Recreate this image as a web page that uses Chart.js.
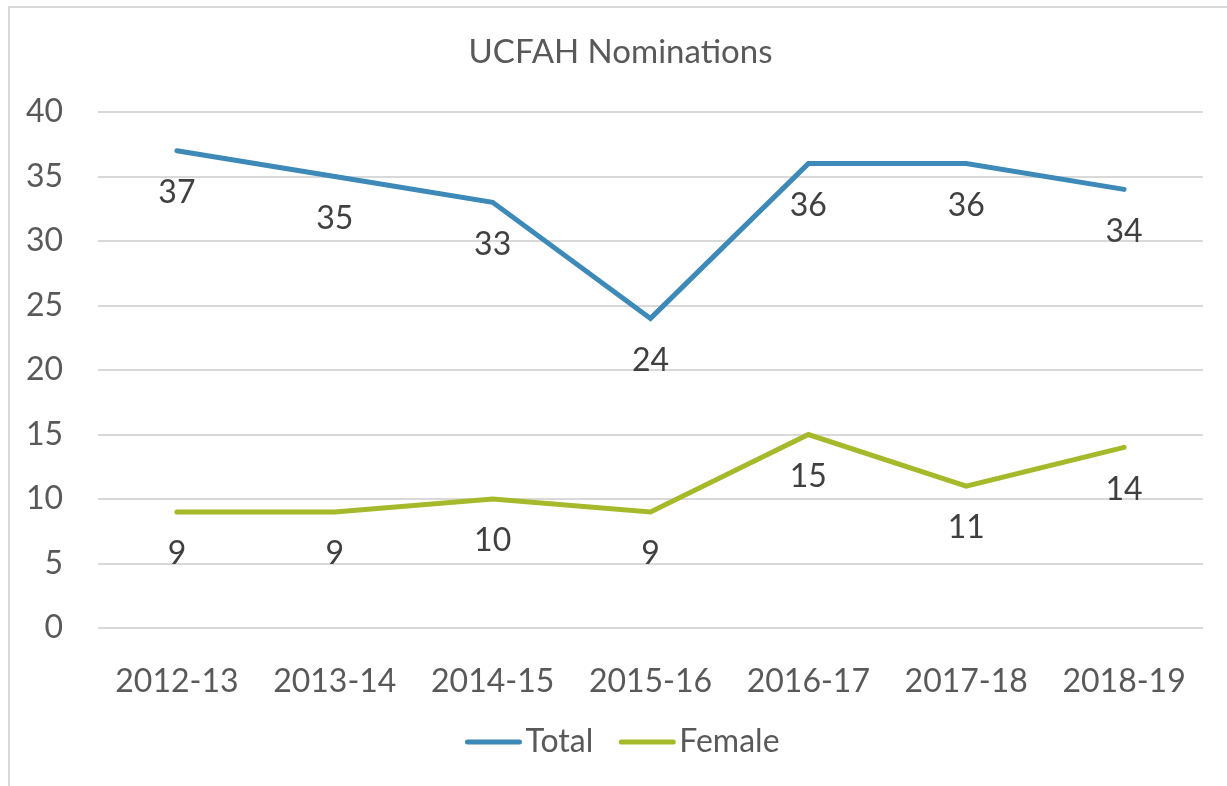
<!DOCTYPE html>
<html>
<head>
<meta charset="utf-8">
<script src="https://cdn.jsdelivr.net/npm/chart.js@4.4.1/dist/chart.umd.min.js"></script>
<style>
  html, body { margin: 0; padding: 0; background: #fff; overflow: hidden; }
  #wrap { position: relative; width: 1227px; height: 786px; }
  #frame { position: absolute; left: 8px; top: 6px; width: 1400px; height: 900px; border: 2px solid #d9d9d9; box-sizing: border-box; }
  canvas { position: absolute; left: 0; top: 0; }
</style>
</head>
<body>
<div id="wrap">
  <div id="frame"></div>
  <canvas id="myChart" width="1227" height="786"></canvas>
</div>
<script>
const chartTitle = "UCFAH Nominations";
const years = ["2012-13", "2013-14", "2014-15", "2015-16", "2016-17", "2017-18", "2018-19"];
const totalValues = [37, 35, 33, 24, 36, 36, 34];
const femaleValues = [9, 9, 10, 9, 15, 11, 14];
const yTicks = [0, 5, 10, 15, 20, 25, 30, 35, 40];

const FONT = "Lato, 'Open Sans', sans-serif";

// title sits a bit right of the canvas centre, like the original
const titleText = {
  id: "titleText",
  afterDraw(chart) {
    const ctx = chart.ctx;
    ctx.save();
    ctx.font = "33px " + FONT;
    ctx.fillStyle = "#595959";
    ctx.textAlign = "center";
    ctx.textBaseline = "middle";
    ctx.fillText(chartTitle, chart.width / 2 + 7, 52);
    ctx.restore();
  }
};

// values written under each point
const pointLabels = {
  id: "pointLabels",
  afterDatasetsDraw(chart) {
    const ctx = chart.ctx;
    ctx.save();
    ctx.font = "32px " + FONT;
    ctx.fillStyle = "#404040";
    ctx.textAlign = "center";
    ctx.textBaseline = "middle";
    chart.data.datasets.forEach((ds, i) => {
      chart.getDatasetMeta(i).data.forEach((pt, j) => {
        ctx.fillText(String(ds.data[j]), pt.x, pt.y + 42);
      });
    });
    ctx.restore();
  }
};

// legend like the office one: short line, text right after it
const lineLegend = {
  id: "lineLegend",
  afterDraw(chart) {
    const ctx = chart.ctx;
    ctx.save();
    ctx.font = "32px " + FONT;
    const lineLen = 56, gap = 4, itemGap = 26;
    const items = chart.data.datasets.map(ds => ({ text: ds.label, color: ds.borderColor, w: ctx.measureText(ds.label).width }));
    let total = 0;
    items.forEach((it, i) => { total += lineLen + gap + it.w + (i < items.length - 1 ? itemGap : 0); });
    let x = chart.width / 2 + 9 - total / 2;
    const y = 742;
    items.forEach(it => {
      ctx.strokeStyle = it.color;
      ctx.lineWidth = 5;
      ctx.lineCap = "round";
      ctx.beginPath();
      ctx.moveTo(x + 2, y);
      ctx.lineTo(x + lineLen - 2, y);
      ctx.stroke();
      x += lineLen + gap;
      ctx.fillStyle = "#595959";
      ctx.textBaseline = "middle";
      ctx.textAlign = "left";
      ctx.fillText(it.text, x, y);
      x += it.w + itemGap;
    });
    ctx.restore();
  }
};

new Chart(document.getElementById("myChart"), {
  type: "line",
  data: {
    labels: years,
    datasets: [
      { label: "Total", data: totalValues, borderColor: "#3d89b7", backgroundColor: "#3d89b7", borderWidth: 5, pointRadius: 0, tension: 0, borderCapStyle: "round" },
      { label: "Female", data: femaleValues, borderColor: "#a6b92b", backgroundColor: "#a6b92b", borderWidth: 5, pointRadius: 0, tension: 0, borderCapStyle: "round" }
    ]
  },
  options: {
    responsive: false,
    animation: false,
    layout: { padding: { left: 0, right: 24, top: 112, bottom: 90 } },
    plugins: {
      legend: { display: false },
      tooltip: { enabled: false },
      title: { display: false }
    },
    scales: {
      x: {
        offset: true,
        grid: { display: false },
        border: { display: false },
        ticks: { color: "#595959", font: { family: FONT, size: 32 }, padding: 26, maxRotation: 0 },
        afterFit(scale) { scale.height = 68; }
      },
      y: {
        min: 0,
        max: 40,
        afterBuildTicks(scale) { scale.ticks = yTicks.map(v => ({ value: v })); },
        grid: { color: "#d9d9d9", lineWidth: 2, drawTicks: false },
        border: { display: false },
        ticks: { color: "#595959", font: { family: FONT, size: 32 }, padding: 35 },
        afterFit(scale) { scale.width = 98; }
      }
    }
  },
  plugins: [pointLabels, lineLegend, titleText]
});
</script>
</body>
</html>
